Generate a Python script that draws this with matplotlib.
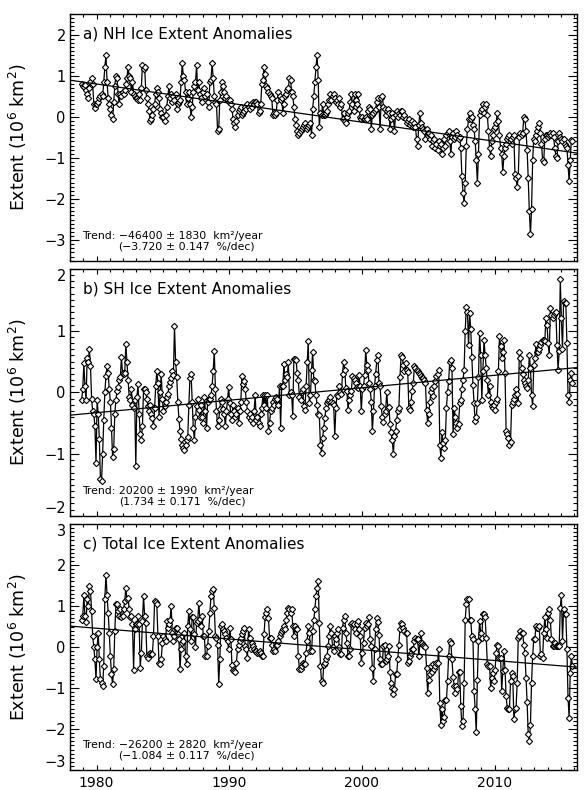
import matplotlib
matplotlib.use('Agg')
import matplotlib.pyplot as plt
import numpy as np
from matplotlib.ticker import MultipleLocator

# monthly anomalies (10^6 km^2), Nov 1978 .. Nov 2015, one row per year
start_year = 1978
start_month = 11

nh_anom = [
    0.80, 0.75,
    0.72, 0.78, 0.65, 0.55, 0.45, 0.70, 0.85, 0.95, 0.80, 0.30, 0.22, 0.30,
    0.30, 0.35, 0.45, 0.50, 0.55, 0.50, 0.85, 1.20, 1.50, 0.85, 0.45, 0.30,
    0.20, 0.05, -0.05, 0.35, 0.75, 1.00, 0.95, 0.55, 0.30, 0.55, 0.50, 0.60,
    0.55, 0.65, 0.80, 0.95, 1.20, 1.00, 0.95, 0.60, 0.85, 0.55, 0.50, 0.45,
    0.45, 0.40, 0.55, 0.40, 0.70, 1.25, 1.15, 1.20, 0.65, 0.45, 0.30, 0.15,
    -0.10, -0.05, 0.05, 0.20, 0.30, 0.55, 0.70, 0.60, 0.45, 0.20, 0.10, 0.00,
    0.00, -0.10, 0.05, 0.25, 0.50, 0.75, 0.45, 0.55, 0.35, 0.50, 0.40, 0.55,
    0.20, 0.30, 0.35, 0.40, 0.85, 1.30, 1.00, 0.90, 0.60, 0.30, 0.45, 0.60,
    0.30, 0.00, 0.25, 0.60, 0.75, 0.85, 1.25, 0.65, 0.85, 0.55, 0.45, 0.35,
    0.60, 0.70, 0.50, 0.55, 0.35, 0.25, 0.85, 0.90, 1.30, 0.95, 0.50, 0.35,
    0.30, -0.35, -0.30, 0.40, 0.60, 0.85, 0.75, 0.60, 0.45, 0.50, 0.40, 0.35,
    0.40, 0.30, 0.20, -0.05, -0.15, -0.25, -0.10, 0.05, 0.15, 0.20, 0.25, 0.05,
    0.10, 0.15, 0.25, 0.20, 0.30, 0.25, 0.20, 0.30, 0.25, 0.35, 0.30, 0.35,
    0.35, 0.30, 0.10, 0.15, 0.30, 0.80, 0.90, 1.20, 1.05, 0.75, 0.70, 0.60,
    0.55, 0.50, 0.45, 0.05, 0.10, 0.05, 0.10, 0.40, 0.60, 0.50, 0.40, 0.45,
    0.10, 0.30, 0.50, 0.55, 0.65, 0.70, 0.95, 0.90, 0.60, 0.50, 0.25, -0.05,
    -0.20, -0.35, -0.45, -0.40, -0.35, -0.30, -0.25, -0.20, -0.15, -0.25, -0.30, -0.25,
    -0.20, -0.15, -0.45, 0.20, 0.50, 0.85, 1.20, 1.50, 0.90, -0.25, 0.10, 0.05,
    0.30, 0.05, 0.05, 0.10, 0.15, 0.30, 0.40, 0.55, 0.40, 0.50, 0.55, 0.45,
    0.35, 0.40, 0.30, 0.45, 0.25, 0.30, -0.05, 0.10, -0.10, -0.15, 0.00, 0.10,
    0.15, 0.35, 0.55, 0.30, 0.15, 0.55, 0.40, 0.30, 0.55, 0.20, 0.00, -0.05,
    0.00, -0.05, -0.05, 0.00, -0.05, 0.15, 0.25, 0.20, -0.30, 0.05, 0.10, 0.15,
    0.20, 0.35, 0.45, 0.25, -0.30, 0.45, 0.50, 0.25, 0.20, 0.05, 0.15, 0.20,
    0.10, -0.30, -0.05, 0.10, 0.00, -0.35, 0.05, 0.15, 0.00, 0.10, 0.05, 0.15,
    0.15, 0.00, 0.05, -0.05, -0.15, -0.10, -0.05, -0.20, -0.15, -0.10, -0.25, -0.15,
    -0.25, -0.55, -0.70, -0.20, 0.10, -0.15, -0.25, -0.30, -0.35, -0.55, -0.30, -0.40,
    -0.40, -0.55, -0.45, -0.70, -0.60, -0.55, -0.75, -0.65, -0.80, -0.60, -0.70, -0.65,
    -0.90, -0.75, -0.55, -0.70, -0.45, -0.40, -0.35, -0.60, -0.90, -0.50, -0.40, -0.55,
    -0.50, -0.35, -0.45, -0.55, -0.50, -0.75, -1.45, -1.85, -2.10, -1.60, -0.70, -0.30,
    -0.05, 0.10, -0.05, 0.00, -0.20, -0.30, -0.60, -1.05, -1.60, -0.90, 0.05, 0.15,
    0.20, 0.30, 0.10, 0.25, 0.30, 0.05, -0.35, -0.75, -0.95, -0.60, -0.45, -0.30,
    -0.25, -0.15, 0.10, -0.10, -0.45, -0.75, -0.90, -1.35, -0.95, -0.75, -0.65, -0.55,
    -0.50, -0.45, -0.55, -0.65, -0.50, -0.45, -1.40, -1.50, -1.70, -1.45, -0.50, -0.40,
    -0.45, -0.40, 0.00, -0.05, -0.35, -0.80, -1.50, -2.30, -2.85, -2.25, -1.05, -0.55,
    -0.60, -0.45, -0.35, -0.25, -0.15, -0.40, -0.65, -1.05, -1.10, -0.55, -0.45, -0.45,
    -0.50, -0.45, -0.40, -0.45, -0.40, -0.50, -0.75, -0.95, -1.00, -0.60, -0.40, -0.50,
    -0.55, -0.60, -0.55, -0.65, -0.70, -0.75, -1.17, -1.57, -1.05, -0.56, -0.60,
]

sh_anom = [
    -0.12, 0.05,
    0.47, 0.10, -0.12, 0.55, 0.50, 0.70, 0.43, -0.10, -0.30, -0.35, -0.55, -1.15,
    -0.13, -0.35, -0.75, -1.40, -1.43, -1.00, -0.45, 0.00, 0.27, 0.43, 0.32, 0.05,
    -0.15, -0.57, -1.05, -0.92, -0.35, -0.12, 0.02, 0.08, 0.20, 0.25, 0.57, 0.32,
    0.30, 0.32, 0.78, 0.49, 0.20, -0.07, -0.13, 0.05, -0.20, -0.25, -0.13, -1.20,
    -0.08, 0.13, -0.35, -0.68, -0.77, -0.55, 0.05, 0.05, 0.00, -0.10, -0.22, -0.30,
    -0.20, -0.35, -0.42, -0.55, -0.25, 0.10, 0.35, 0.15, -0.40, 0.00, 0.30, -0.10,
    -0.30, -0.22, -0.15, -0.08, -0.03, 0.10, 0.16, 0.24, 0.35, 0.28, 1.07, 0.50,
    0.25, -0.15, -0.43, -0.62, -0.75, -0.85, -0.90, -0.93, -0.85, -0.78, -0.73, -0.20,
    0.24, 0.30, -0.15, -0.57, -0.78, -0.40, -0.22, -0.10, -0.28, -0.40, -0.20, -0.40,
    -0.50, -0.08, -0.30, -0.57, -0.15, -0.10, -0.10, -0.05, 0.10, 0.35, 0.67, 0.05,
    -0.30, -0.55, -0.45, -0.27, -0.10, -0.15, -0.27, -0.35, -0.55, -0.30, -0.10, 0.08,
    -0.18, -0.35, -0.45, -0.20, -0.30, -0.40, -0.35, -0.25, -0.50, -0.30, -0.15, 0.27,
    0.13, 0.19, 0.05, -0.15, -0.30, -0.40, -0.35, -0.45, -0.40, -0.50, -0.30, -0.05,
    -0.45, -0.40, -0.50, -0.55, -0.35, -0.25, -0.05, -0.20, -0.05, -0.25, -0.05, -0.62,
    -0.50, -0.30, -0.25, -0.15, -0.20, -0.10, -0.08, -0.10, -0.20, 0.10, -0.57, 0.10,
    0.10, 0.46, 0.20, 0.30, 0.25, 0.49, -0.05, 0.00, -0.05, -0.38, 0.54, 0.54,
    0.53, 0.31, 0.20, -0.08, -0.13, 0.00, 0.05, -0.22, -0.28, 0.10, 0.50, 0.83,
    -0.18, -0.05, 0.37, 0.66, 0.20, 0.18, -0.05, -0.20, -0.35, -0.36, -0.85, -0.98,
    -0.74, -0.58, -0.42, -0.25, -0.18, -0.14, -0.12, -0.07, -0.15, -0.17, -0.20, -0.71,
    -0.25, -0.04, -0.06, 0.10, 0.00, -0.02, 0.30, 0.50, 0.37, 0.07, 0.02, -0.28,
    -0.12, -0.04, 0.02, 0.26, 0.24, 0.20, 0.15, 0.08, 0.07, 0.28, 0.10, -0.30,
    0.05, 0.10, 0.28, 0.69, 0.45, 0.37, 0.15, 0.05, -0.15, -0.63, -0.30, 0.10,
    0.30, 0.52, 0.61, 0.15, 0.10, -0.22, -0.40, -0.48, -0.35, -0.30, 0.00, -0.25,
    -0.23, -0.52, -0.65, -0.78, -1.00, -0.70, -0.63, -0.45, -0.30, -0.25, 0.25, 0.61,
    0.58, 0.45, 0.34, 0.47, 0.37, 0.33, -0.25, -0.28, -0.15, 0.02, 0.15, 0.42,
    0.40, 0.37, 0.34, 0.31, 0.29, 0.26, 0.24, 0.23, 0.20, 0.15, -0.28, -0.50,
    -0.35, -0.15, 0.00, 0.07, -0.06, 0.10, 0.18, 0.26, 0.30, 0.37, -0.85, -1.06,
    -0.65, -0.82, -0.90, -0.77, -0.25, 0.00, 0.18, 0.50, 0.53, 0.40, -0.68, -0.25,
    -0.40, -0.50, -0.58, -0.52, -0.18, -0.12, 0.05, 0.20, 0.37, 1.00, 1.39, 1.31,
    0.77, 1.29, 1.02, 0.58, 0.12, -0.18, -0.47, -0.40, -0.17, 0.25, 0.96, 0.61,
    -0.12, 0.35, 0.85, 0.61, 0.40, 0.20, -0.04, 0.10, -0.15, -0.22, -0.25, -0.20,
    -0.28, -0.15, -0.10, 0.34, 0.91, 0.75, 0.55, 0.65, 0.85, 0.31, -0.63, -0.68,
    -0.74, -0.85, -0.80, -0.20, -0.15, -0.10, -0.04, 0.05, -0.02, -0.17, 0.66, 0.55,
    0.40, 0.30, 0.20, 0.15, 0.10, 0.07, 0.20, 0.61, 0.40, -0.05, -0.22, 0.45,
    0.55, 0.78, 0.65, 0.66, 0.70, 0.77, 0.82, 0.85, 0.85, 0.83, 1.20, 1.10,
    0.80, 0.60, 1.37, 1.25, 1.20, 1.25, 1.28, 1.30, 0.77, 0.37, 0.67, 1.83,
    1.20, 0.70, 1.48, 1.45, 1.45, 0.80, -0.04, -0.15, 0.20, 0.31, 0.15,
]

total_anom = [
    0.67, 0.75,
    1.26, 0.75, 0.60, 1.16, 1.00, 1.49, 1.37, 0.88, 0.27, 0.00, -0.30, -0.79,
    0.00, 0.35, -0.30, -0.79, -0.87, -0.94, -0.46, 1.18, 1.76, 1.26, 0.84, 0.35,
    -0.22, -0.67, -0.91, -0.53, 0.39, 1.04, 1.04, 0.88, 0.75, 0.92, 0.72, 0.76,
    0.92, 1.12, 1.45, 1.16, 1.20, 0.92, 0.72, 0.76, 0.55, -0.55, 0.43, 0.55,
    0.55, 0.76, 0.55, -0.50, -0.14, 0.63, 1.24, 0.76, 0.59, -0.22, -0.26, -0.18,
    -0.14, -0.18, -0.18, 0.27, 1.12, 1.10, 1.05, 0.27, -0.38, -0.42, -0.30, 0.10,
    0.27, 0.20, 0.15, 0.63, 0.47, 0.55, 0.67, 1.00, 0.35, 0.15, 0.27, 0.47,
    0.47, 0.31, 0.20, -0.54, -0.06, 0.10, 0.15, 0.35, -0.22, -0.42, 0.51, 0.88,
    0.43, 0.15, 0.72, 0.72, 0.31, 0.00, 0.59, 0.63, 1.08, 0.68, 0.51, 0.76,
    0.27, 0.27, -0.22, -0.22, 0.02, 0.40, 0.84, 1.24, 1.37, 1.41, 0.96, 0.27,
    0.23, 0.06, -0.91, -0.30, 0.51, 0.55, 0.43, 0.39, 0.31, 0.23, 0.15, -0.06,
    0.47, 0.19, -0.45, -0.55, -0.58, -0.60, -0.38, -0.06, 0.06, 0.15, 0.23, 0.31,
    0.39, 0.47, 0.02, -0.06, -0.26, 0.43, 0.23, -0.06, 0.10, 0.02, -0.06, -0.10,
    -0.10, -0.14, -0.14, -0.10, -0.14, -0.22, -0.22, 0.31, 0.72, 0.84, 0.92, 0.70,
    0.23, 0.23, 0.06, -0.10, -0.06, -0.10, 0.06, 0.06, 0.15, 0.27, 0.35, 0.39,
    0.43, 0.51, 0.43, 0.67, 0.84, 0.96, 0.92, 0.84, 0.92, 0.51, 0.27, 0.51,
    0.43, 0.43, -0.22, -0.54, -0.54, -0.46, -0.38, -0.42, -0.42, -0.14, 0.15, 0.51,
    0.35, -0.10, -0.10, 0.40, 0.67, 0.92, 1.24, 1.45, 1.61, 0.59, -0.46, -0.83,
    -0.87, -0.45, -0.38, -0.30, -0.22, 0.02, 0.27, 0.51, 0.35, 0.00, -0.10, 0.27,
    0.19, 0.35, 0.43, 0.00, -0.18, -0.18, 0.47, 0.67, 0.76, 0.35, 0.10, -0.22,
    -0.22, -0.06, 0.55, 0.59, 0.55, 0.43, 0.35, 0.55, 0.63, 0.43, 0.27, -0.38,
    -0.14, 0.10, 0.47, 0.59, 0.51, 0.55, 0.72, 0.19, 0.02, -0.50, -0.83, -0.05,
    0.45, 0.70, 0.60, 0.30, -0.30, -0.42, -0.42, 0.02, 0.06, -0.34, -0.30, -0.22,
    0.02, -0.60, -0.87, -1.00, -1.15, -1.03, -0.67, -0.67, -0.30, 0.05, 0.45, 0.59,
    0.55, 0.47, 0.40, 0.35, 0.35, -0.38, -0.34, -0.22, -0.14, -0.06, -0.06, 0.15,
    0.23, 0.19, 0.19, -0.22, 0.10, 0.35, 0.10, 0.06, 0.02, 0.00, -0.50, -1.11,
    -0.80, -0.67, -0.46, -0.62, -0.42, -0.54, -0.46, -0.38, -0.38, -0.06, -1.36, -1.89,
    -1.50, -1.80, -1.70, -1.30, -1.30, -0.83, -0.22, 0.15, 0.10, -0.30, -0.72, -0.95,
    -1.11, -0.95, -1.03, -0.62, -0.62, -1.45, -1.93, -1.80, -0.87, 0.67, 1.04, 1.16,
    1.16, 0.67, 0.67, 0.27, 0.20, -1.07, -1.52, -2.07, -0.80, 0.15, 0.63, 0.35,
    0.23, 0.80, 0.80, 0.72, 0.23, -0.42, -0.46, -0.46, -0.99, -0.75, -0.63, -0.83,
    -0.55, -0.14, 0.06, 0.02, -0.26, -0.26, -1.07, -0.58, -0.10, -0.55, -1.20, -1.48,
    -1.50, -1.52, -0.83, -0.63, -0.70, -1.76, -1.52, -1.48, -0.87, 0.23, 0.27, 0.39,
    0.35, 0.35, 0.06, -0.14, -0.75, -1.35, -2.13, -2.29, -1.90, -0.87, -0.22, 0.19,
    0.19, 0.51, 0.47, 0.47, 0.51, -0.22, -0.18, -0.26, 0.35, 0.72, 0.43, 0.23,
    0.84, 0.92, 0.67, 0.19, 0.02, 0.02, 0.10, 0.02, 0.02, 0.02, 0.02, 0.96,
    1.28, 0.15, 0.92, 0.80, 0.80, -0.06, -1.24, -1.72, -0.63, -0.22, -0.46,
]

# trend lines: value at 1978.0 and slope (10^6 km^2 per year)
trend_a = (0.89, -0.0464)
trend_b = (-0.37, 0.0202)
trend_c = (0.51, -0.0262)

titles = ['a) NH Ice Extent Anomalies', 'b) SH Ice Extent Anomalies',
          'c) Total Ice Extent Anomalies']
# trend text split at the \u00b1 sign so both lines line up on it
trend_left1 = ['Trend: \u221246400', 'Trend: 20200', 'Trend: \u221226200']
trend_right1 = ['\u00b1 1830  km\u00b2/year', '\u00b1 1990  km\u00b2/year',
                '\u00b1 2820  km\u00b2/year']
trend_left2 = ['(\u22123.720', '(1.734', '(\u22121.084']
trend_right2 = ['\u00b1 0.147  %/dec)', '\u00b1 0.171  %/dec)',
                '\u00b1 0.117  %/dec)']

plt.rcParams['font.family'] = ['DejaVu Sans']
plt.rcParams['mathtext.fontset'] = 'dejavusans'

xlim = (1978.0, 2016.22)
fig = plt.figure(figsize=(5.87, 7.90), dpi=100)
boxes = [(0.1193, 0.6700, 0.8637, 0.3123),
         (0.1193, 0.3472, 0.8637, 0.3123),
         (0.1193, 0.0253, 0.8637, 0.3114)]
ylims = [(-3.5, 2.5), (-2.0, 2.0), (-3.0, 3.0)]
series = [nh_anom, sh_anom, total_anom]
trends = [trend_a, trend_b, trend_c]
axes = []

for i in range(3):
    ax = fig.add_axes(boxes[i])
    axes.append(ax)
    y = np.array(series[i])
    t = start_year + (start_month - 1 + np.arange(len(y)) + 0.5) / 12.0
    ax.plot(t, y, color='black', lw=0.9, marker='D', ms=3.2,
            mfc='white', mec='black', mew=0.8, zorder=3)
    xs = np.array(xlim)
    b0, slope = trends[i]
    ax.plot(xs, b0 + slope * (xs - start_year), color='black', lw=0.9, zorder=4)

    ax.set_xlim(xlim)
    ax.set_ylim(ylims[i])
    ax.xaxis.set_major_locator(MultipleLocator(10))
    ax.xaxis.set_minor_locator(MultipleLocator(1))
    ax.yaxis.set_major_locator(MultipleLocator(1))
    ax.yaxis.set_minor_locator(MultipleLocator(0.1))
    ax.tick_params(which='both', direction='in', top=True, right=True,
                   width=0.8, labelsize=10.5)
    ax.tick_params(axis='x', which='major', length=3.8, pad=4, labelsize=10)
    ax.tick_params(axis='x', which='minor', length=1.9)
    ax.tick_params(axis='y', which='major', length=6.5, pad=3)
    ax.tick_params(axis='y', which='minor', length=3.2)
    for s in ax.spines.values():
        s.set_linewidth(1.0)
    if i < 2:
        ax.set_xticklabels([])

    ax.set_ylabel('Extent (10$^6$ km$^2$)', fontsize=12.5)
    ax.yaxis.set_label_coords(-0.080, 0.5)

    ax.text(0.026, 0.92, titles[i], transform=ax.transAxes, fontsize=11,
            ha='left', va='center')

fig.canvas.draw()
renderer = fig.canvas.get_renderer()
gap = 3.0 / 507  # small space before the plus-minus sign, axes fraction

for i, ax in enumerate(axes):
    # edge tick labels sit inside the frame, as in the original
    lo, hi = ylims[i]
    for tick, loc in zip(ax.yaxis.get_major_ticks(), ax.get_yticks()):
        if abs(loc - hi) < 1e-6:
            tick.label1.set_verticalalignment('top')
        elif abs(loc - lo) < 1e-6:
            tick.label1.set_verticalalignment('bottom')

    left = ax.text(0.024, 0.100, trend_left1[i], transform=ax.transAxes,
                   fontsize=7.8, ha='left', va='center')
    bb = left.get_window_extent(renderer).transformed(ax.transAxes.inverted())
    x_pm = bb.x1 + gap
    ax.text(x_pm, 0.100, trend_right1[i], transform=ax.transAxes,
            fontsize=7.8, ha='left', va='center')
    ax.text(x_pm - gap, 0.058, trend_left2[i], transform=ax.transAxes,
            fontsize=7.8, ha='right', va='center')
    ax.text(x_pm, 0.058, trend_right2[i], transform=ax.transAxes,
            fontsize=7.8, ha='left', va='center')

fig.savefig('out.png', dpi=100)
